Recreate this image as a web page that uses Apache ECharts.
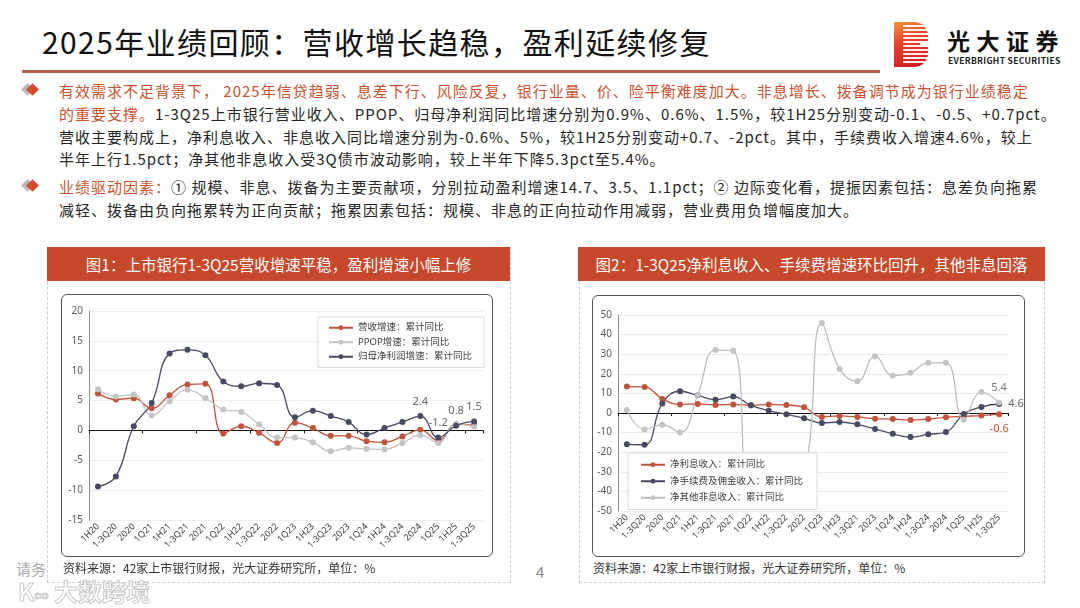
<!DOCTYPE html>
<html><head><meta charset="utf-8">
<script src="https://cdn.jsdelivr.net/npm/echarts@6/dist/echarts.min.js"></script>
<style>
html,body{margin:0;padding:0;background:#fff;}
body{width:1080px;height:608px;position:relative;overflow:hidden;font-family:"Noto Sans CJK SC","Noto Sans",sans-serif;}
.abs{position:absolute;}
#title{left:42px;top:19px;font-size:30px;letter-spacing:1.4px;color:#111;white-space:nowrap;line-height:44px;}
#rule{left:22px;top:70px;width:858px;height:3px;background:#B6604E;}
.txt{left:59px;font-size:15px;letter-spacing:1.0px;line-height:22.8px;color:#262626;white-space:nowrap;}
.hl{color:#C9522F;}
.dia{width:9px;height:9px;transform:rotate(45deg);}
.panel{border:1px dashed #cfcfcf;box-sizing:border-box;}
.head{background:#C8482B;color:#fff;font-size:15.5px;text-align:center;line-height:34px;height:34px;white-space:nowrap;}
.box{border:1.5px solid #555;border-radius:6px;box-sizing:border-box;pointer-events:none;}
.src{font-size:12px;color:#333;white-space:nowrap;}
</style></head>
<body>
<div id="title" class="abs">2025年业绩回顾：营收增长趋稳，盈利延续修复</div>
<div id="rule" class="abs"></div>

<!-- logo -->
<div class="abs" style="left:894px;top:22px;width:34px;height:45px;border-radius:0 14px 14px 0;background:linear-gradient(160deg,#F5923A 0%,#E9432C 40%,#C41620 100%);"></div>
<div class="abs" style="left:903px;top:25px;width:25px;height:39px;background:repeating-linear-gradient(to bottom,#fff 0px,#fff 1.6px,transparent 1.6px,transparent 4px);opacity:0.9;"></div>
<div class="abs" style="left:920px;top:42px;width:9px;height:5px;background:#fff;"></div>
<div class="abs" style="left:947px;top:27px;font-size:23px;font-weight:bold;color:#111;letter-spacing:6.5px;white-space:nowrap;line-height:26px;">光大证券</div>
<div class="abs" style="left:948px;top:55px;font-size:8.6px;font-weight:bold;color:#222;letter-spacing:0.3px;white-space:nowrap;line-height:10px;">EVERBRIGHT SECURITIES</div>

<!-- bullets -->
<div class="abs dia" style="left:23px;top:85px;background:#b9b9b9;"></div>
<div class="abs dia" style="left:28px;top:85px;background:#D24B2B;"></div>
<div class="abs txt" style="top:80px;"><span class="hl">有效需求不足背景下， 2025年信贷趋弱、息差下行、风险反复，银行业量、价、险平衡难度加大。非息增长、拨备调节成为银行业绩稳定</span><br><span class="hl">的重要支撑。</span>1-3Q25上市银行营业收入、PPOP、归母净利润同比增速分别为0.9%、0.6%、1.5%，较1H25分别变动-0.1、-0.5、+0.7pct。<br>营收主要构成上，净利息收入、非息收入同比增速分别为-0.6%、5%，较1H25分别变动+0.7、-2pct。其中，手续费收入增速4.6%，较上<br>半年上行1.5pct；净其他非息收入受3Q债市波动影响，较上半年下降5.3pct至5.4%。</div>
<div class="abs dia" style="left:23px;top:181px;background:#b9b9b9;"></div>
<div class="abs dia" style="left:28px;top:181px;background:#D24B2B;"></div>
<div class="abs txt" style="top:176px;"><span class="hl">业绩驱动因素：</span>① 规模、非息、拨备为主要贡献项，分别拉动盈利增速14.7、3.5、1.1pct；② 边际变化看，提振因素包括：息差负向拖累<br>减轻、拨备由负向拖累转为正向贡献；拖累因素包括：规模、非息的正向拉动作用减弱，营业费用负增幅度加大。</div>

<!-- panel 1 -->
<div class="abs panel" style="left:47px;top:247px;width:464px;height:336px;"></div>
<div class="abs head" style="left:47px;top:247px;width:463px;">图1：上市银行1-3Q25营收增速平稳，盈利增速小幅上修</div>
<div id="chart1" class="abs" style="left:61px;top:294px;width:432px;height:263px;"></div>
<div class="abs box" style="left:61px;top:294px;width:432px;height:263px;"></div>
<div class="abs src" style="left:63px;top:559px;">资料来源：42家上市银行财报，光大证券研究所，单位：%</div>

<!-- panel 2 -->
<div class="abs panel" style="left:579px;top:247px;width:466px;height:336px;"></div>
<div class="abs head" style="left:578px;top:247px;width:467px;">图2：1-3Q25净利息收入、手续费增速环比回升，其他非息回落</div>
<div id="chart2" class="abs" style="left:592px;top:295px;width:433px;height:262px;"></div>
<div class="abs box" style="left:592px;top:295px;width:433px;height:262px;"></div>
<div class="abs src" style="left:593px;top:559px;">资料来源：42家上市银行财报，光大证券研究所，单位：%</div>

<div class="abs" style="left:536px;top:561px;font-size:15px;color:#888;">4</div>
<div class="abs" style="left:16px;top:558px;font-size:15px;color:#aaa;">请务</div>
<div class="abs" style="left:18px;top:573px;font-size:24px;color:transparent;-webkit-text-stroke:1px #c8c8c8;white-space:nowrap;font-weight:bold;">K<span style="font-size:14px;">∞</span> 大数跨境</div>

<script>
// ---------- data ----------
const categories1 = ['1H20','1-3Q20','2020','1Q21','1H21','1-3Q21','2021','1Q22','1H22','1-3Q22','2022','1Q23','1H23','1-3Q23','2023','1Q24','1H24','1-3Q24','2024','1Q25','1H25','1-3Q25'];
const categories2 = ['1H20','1-3Q20','2020','1Q21','1H21','1-3Q21','2021','1Q22','1H22','1-3Q22','2022','1Q23','1H23','1-3Q21','2023','1Q24','1H24','1-3Q24','2024','1Q25','1H25','1-3Q25'];
const yTicks1 = [-15, 20, 5];   // min, max, interval
const yTicks2 = [-50, 50, 10];

const revenueGrowth = [6.2,5.2,5.4,3.7,5.9,7.7,7.8,-0.5,0.7,-0.4,-2.1,1.3,0.4,-0.9,-0.9,-1.8,-2.0,-1.0,0.1,-1.7,1.0,0.9];
const ppopGrowth    = [6.9,5.7,6.0,2.5,4.9,6.8,5.4,3.5,3.1,1.0,-1.2,-1.2,-2.0,-3.5,-2.9,-3.1,-3.2,-2.1,-0.8,-2.1,1.1,0.6];
const profitGrowth  = [-9.4,-7.7,0.7,4.6,12.9,13.5,12.6,8.2,7.4,7.9,7.6,2.2,3.3,2.4,1.4,-0.7,0.4,1.4,2.4,-1.2,0.8,1.5];
const profitLabelIdx = [18,19,20,21];

const niiGrowth   = [13.5,13.3,7.2,4.4,4.6,4.1,4.4,3.9,4.4,4.1,2.9,-2.0,-1.5,-2.0,-2.9,-3.1,-3.6,-3.1,-2.2,-1.7,-1.3,-0.6];
const feeGrowth   = [-16.0,-16.2,4.9,11.1,9.0,6.8,8.4,3.9,1.2,-0.7,-2.7,-5.1,-4.6,-5.8,-8.2,-10.6,-12.3,-10.9,-9.7,-0.5,3.1,4.6];
const otherGrowth = [1.5,-8.4,-6.0,-9.9,9.2,32.1,31.7,-42.0,-38.0,-35.0,-31.4,45.9,22.4,16.2,29.0,19.1,20.5,25.6,25.6,-3.4,10.7,5.4];

const names1 = ['营收增速：累计同比','PPOP增速：累计同比','归母净利润增速：累计同比'];
const names2 = ['净利息收入：累计同比','净手续费及佣金收入：累计同比','净其他非息收入：累计同比'];

// ---------- styles ----------
const ORANGE = '#C0533A', GRAY = '#C4C4C4', DARK = '#474A60';
const FONT = '"Noto Sans","Noto Sans CJK SC",sans-serif';

function labelled(arr, idxs, label){
  return arr.map((v,i)=> idxs.indexOf(i) >= 0 ? {value:v, label:Object.assign({show:true}, label)} : v);
}
function lineSeries(name, data, color, extra){
  return Object.assign({
    name, type:'line', data, smooth:0.45, symbol:'circle', symbolSize:6,
    lineStyle:{color, width:1.3}, itemStyle:{color},
    xAxisIndex:0, yAxisIndex:0
  }, extra||{});
}
function xAxes(cats){
  return [
    {type:'category', data:cats, boundaryGap:true, position:'bottom',
     axisLine:{show:false,onZero:false}, axisTick:{show:false},
     axisLabel:{rotate:45, fontSize:9, color:'#404040', interval:0, margin:5, fontFamily:FONT}},
    {type:'category', data:cats, boundaryGap:true, position:'bottom',
     axisLine:{show:true,onZero:true,lineStyle:{color:'#111',width:1}},
     axisTick:{show:true,length:3,lineStyle:{color:'#111'}}, axisLabel:{show:false}}
  ];
}

// ---------- chart 1 ----------
const c1 = echarts.init(document.getElementById('chart1'));
c1.setOption({
  animation:false,
  textStyle:{fontFamily:FONT},
  grid:{left:28, right:10, top:17, bottom:37},
  legend:{orient:'vertical', left:257, top:23, data:names1,
    backgroundColor:'#fff', borderColor:'#d9d9d9', borderWidth:1, padding:[6,12,6,10],
    itemGap:5, itemWidth:24, itemHeight:6,
    textStyle:{fontSize:9.5, color:'#404040', fontFamily:FONT}},
  xAxis:xAxes(categories1),
  yAxis:{type:'value', min:yTicks1[0], max:yTicks1[1], interval:yTicks1[2],
    axisLine:{show:true, lineStyle:{color:'#8c8c8c'}}, axisTick:{show:false},
    splitLine:{lineStyle:{color:'#ededed'}},
    axisLabel:{fontSize:10, color:'#595959', margin:6}},
  series:[
    lineSeries(names1[0], revenueGrowth, ORANGE),
    lineSeries(names1[1], ppopGrowth, GRAY),
    lineSeries(names1[2], labelled(profitGrowth, profitLabelIdx, {position:'top', distance:6, fontSize:11, color:'#666'}), DARK)
  ]
});

// ---------- chart 2 ----------
const c2 = echarts.init(document.getElementById('chart2'));
const last = niiGrowth.length - 1;
c2.setOption({
  animation:false,
  textStyle:{fontFamily:FONT},
  grid:{left:26, right:17, top:20, bottom:46},
  legend:{orient:'vertical', left:36, top:158, data:names2,
    backgroundColor:'#fff', borderColor:'#d9d9d9', borderWidth:1, padding:[7,14,7,12],
    itemGap:7, itemWidth:24, itemHeight:6,
    textStyle:{fontSize:9.5, color:'#404040', fontFamily:FONT}},
  xAxis:xAxes(categories2),
  yAxis:{type:'value', min:yTicks2[0], max:yTicks2[1], interval:yTicks2[2],
    axisLine:{show:true, lineStyle:{color:'#8c8c8c'}}, axisTick:{show:false},
    splitLine:{lineStyle:{color:'#d6d6d6', type:'dotted'}},
    axisLabel:{fontSize:10, color:'#595959', margin:6}},
  series:[
    lineSeries(names2[0], labelled(niiGrowth, [last], {position:'bottom', distance:6, fontSize:11, color:ORANGE}), ORANGE),
    lineSeries(names2[1], labelled(feeGrowth, [last], {position:'right', distance:6, fontSize:11, color:'#666'}), DARK),
    lineSeries(names2[2], labelled(otherGrowth, [last], {position:'top', distance:6, fontSize:11, color:'#777'}), GRAY, {lineStyle:{color:'#BDBDBD', width:1.3}})
  ]
});
</script>
</body></html>
